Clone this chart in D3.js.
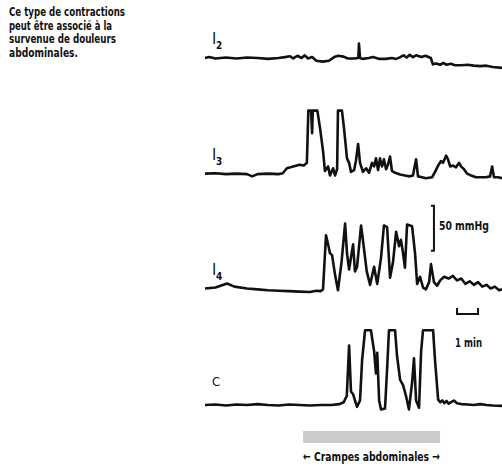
<!DOCTYPE html>
<html>
<head>
<meta charset="utf-8">
<script src="https://cdn.jsdelivr.net/npm/d3@7"></script>
<style>
  body { margin: 0; background: #fff; }
  svg { display: block; }
  text { font-family: "Liberation Sans Narrow", "DejaVu Sans Condensed", "Roboto", sans-serif; fill: #111; }
</style>
</head>
<body>
<svg id="chart" width="502" height="472"></svg>
<script>
// channels, top to bottom
var channels = ['I2', 'I3', 'I4', 'C'];
var channelSub = { I2: '2', I3: '3', I4: '4', C: '' };

// [time (min), pressure relative to baseline (mmHg)]
var i2 = [[0,0],[0.2,1],[0.5,-0.5],[1,0.5],[1.5,-0.5],[2,0.5],[2.5,0],[3,-1],[3.5,0],[3.8,1],[4.05,2],[4.2,-0.5],[4.4,2.5],[4.6,0],[4.75,3],[4.9,-0.5],[5.1,1],[5.3,-3],[5.6,-4],[5.9,-3],[6.15,1],[6.35,2.5],[6.6,1.5],[6.8,-0.5],[7.1,-0.5],[7.3,0],[7.33,16],[7.38,0],[7.5,-1],[7.8,0],[8,1],[8.3,-1],[8.6,-1],[8.9,0],[9.1,-1],[9.3,1],[9.45,3],[9.6,0.5],[9.75,3.5],[9.9,1],[10.05,3],[10.3,1],[10.5,2.5],[10.75,0],[10.85,-7],[11,-6],[11.2,-7.5],[11.35,-5.5],[11.5,-7.5],[11.7,-6.5],[11.9,-8],[12.2,-8],[12.5,-7.5],[12.8,-8.5],[13.1,-9],[13.4,-8.5],[13.7,-10],[14.14,-11]];

var i3 = [[0,0],[0.5,0.5],[1,-0.5],[1.5,0],[2,-0.5],[2.25,-3],[2.5,-0.5],[3,0],[3.5,-0.5],[3.7,0.5],[3.9,6],[4.2,8],[4.5,10],[4.7,9],[4.85,12],[4.92,70],[5.05,70],[5.1,45],[5.13,70],[5.35,70],[5.48,50],[5.62,25],[5.71,3],[5.86,8],[5.95,-2],[6.1,6],[6.19,-2],[6.29,5],[6.33,70],[6.52,70],[6.62,50],[6.76,17],[6.86,12],[6.95,2],[7.1,4],[7.19,15],[7.29,33],[7.38,12],[7.52,2],[7.67,6],[7.81,1],[7.95,12],[8.05,8],[8.14,17],[8.24,4],[8.33,17],[8.43,8],[8.52,16],[8.62,5],[8.71,10],[8.81,19],[8.9,3],[9.05,1],[9.29,-1],[9.52,-2],[9.76,-3],[9.9,-2],[10.05,16],[10.14,-3],[10.33,-4],[10.52,-5],[10.81,-4],[10.95,2],[11.1,9],[11.24,14],[11.33,12],[11.48,20],[11.57,16],[11.67,8],[11.81,9],[11.95,7],[12.1,12],[12.19,8],[12.33,5],[12.48,0],[12.67,-2],[12.9,-4],[13.14,-4],[13.38,-4],[13.57,-3],[13.67,8],[13.76,-4],[13.95,-4],[14.14,-5]];

var i4 = [[0,1],[0.5,2],[1.05,6.5],[1.4,3],[2,1],[2.5,0],[3,-1],[3.5,-1.5],[4,-2],[4.5,-2.5],[5,-3],[5.3,-1.5],[5.5,-2],[5.62,0],[5.76,60],[5.86,50],[5.95,40],[6.05,38],[6.2,15],[6.33,-1],[6.5,30],[6.67,73],[6.76,40],[6.86,22],[7.05,50],[7.14,20],[7.24,25],[7.43,71],[7.57,45],[7.7,20],[7.86,5],[8.05,25],[8.2,6],[8.38,35],[8.52,71],[8.67,69],[8.81,13],[8.95,30],[9.1,64],[9.24,48],[9.33,55],[9.43,40],[9.52,24],[9.62,72],[9.86,70],[10,40],[10.1,6],[10.24,14],[10.38,2],[10.52,0],[10.67,8],[10.76,28],[10.9,8],[11.05,4],[11.2,10],[11.38,14],[11.6,12],[11.8,15],[12,10],[12.2,12],[12.4,6],[12.6,9],[12.8,5],[13,8],[13.2,3],[13.4,5],[13.6,1],[13.8,3],[14,-1],[14.14,0]];

var c = [[0,0],[0.5,0.5],[1,-0.5],[1.5,0.5],[2,0],[2.5,1],[3,0],[3.5,-0.5],[4,0.5],[4.5,0],[5,-0.5],[5.5,0],[6,0],[6.4,1],[6.6,3],[6.75,10],[6.86,66],[6.95,15],[7.05,12],[7.14,5],[7.24,-2],[7.38,5],[7.48,50],[7.62,83],[7.9,83],[8.05,60],[8.14,35],[8.2,58],[8.29,5],[8.38,-5],[8.57,-4],[8.67,40],[8.76,83],[9.05,83],[9.14,55],[9.29,28],[9.43,22],[9.57,10],[9.71,-5],[9.86,25],[9.95,52],[10.05,5],[10.19,-3],[10.29,60],[10.38,83],[10.86,83],[10.95,50],[11.1,6],[11.2,3],[11.3,5],[11.4,2],[11.5,4.5],[11.6,1.5],[11.85,5],[12,2],[12.2,1],[12.5,0.5],[12.8,0],[13.1,1],[13.4,0],[13.7,-0.5],[14.14,-1]];

var traces = { I2: i2, I3: i3, I4: i4, C: c };

var noteLines = ['Ce type de contractions', 'peut être associé à la', 'survenue de douleurs', 'abdominales.'];
var crampSpan = [4.67, 11.19];     // min
var crampLabel = '\u2190 Crampes abdominales \u2192';
var pressureBar = { channel: 'I4', from: 43, to: 93, label: '50 mmHg', t: 10.9 };
var timeBar = { from: 12.0, to: 13.0, label: '1 min' };

var svg = d3.select('#chart');

var x = d3.scaleLinear().domain([0, 14.14]).range([205, 502]);
var ch = d3.scalePoint().domain(channels).range([58, 405]);
var y = d3.scaleLinear().domain([0, 50]).range([0, -45]);

// fit text into a target width (condensed look)
function fit(sel, w, always) {
    sel.each(function () {
        var len = this.getComputedTextLength();
        if (len > w || always) {
            d3.select(this).attr('textLength', w).attr('lengthAdjust', 'spacingAndGlyphs');
        }
    });
}

// note on the left
var noteWidths = [116, 103, 107, 69];
svg.append('g').selectAll('text')
    .data(noteLines)
    .join('text')
    .attr('x', 9)
    .attr('y', (d, i) => 16 + i * 13.7)
    .style('font-size', '12px')
    .style('font-weight', 600)
    .text(d => d)
    .each(function (d, i) {
        fit(d3.select(this), noteWidths[i], true);
    });

// traces
var line = d3.line()
    .x(d => x(d[0]))
    .y(d => d[1]);

var g = svg.append('g');
channels.forEach(function (name) {
    var base = ch(name);
    g.append('path')
        .datum(traces[name].map(d => [d[0], base + y(d[1])]))
        .attr('d', line)
        .attr('fill', 'none')
        .attr('stroke', '#111')
        .attr('stroke-width', 2.6)
        .attr('stroke-linejoin', 'round');

    g.append('text')
        .attr('x', 212)
        .attr('y', base - (name == 'C' ? 19 : 14))
        .style('font-size', name == 'C' ? '13px' : '16px')
        .text(name == 'C' ? 'C' : 'I');
    if (channelSub[name]) {
        g.append('text')
            .attr('x', 216)
            .attr('y', base - 9)
            .style('font-size', '10px')
            .style('font-weight', 600)
            .text(channelSub[name]);
    }
});

// 50 mmHg bar
var pb = ch(pressureBar.channel);
var px = x(pressureBar.t);
svg.append('path')
    .attr('d', 'M' + (px - 3) + ',' + (pb + y(pressureBar.to)) + 'H' + px + 'V' + (pb + y(pressureBar.from)) + 'H' + (px - 3))
    .attr('fill', 'none')
    .attr('stroke', '#111')
    .attr('stroke-width', 2);
svg.append('text')
    .attr('x', px + 5)
    .attr('y', pb + y(pressureBar.to) + 24)
    .style('font-size', '12px')
    .style('font-weight', 600)
    .text(pressureBar.label)
    .call(fit, 50);

// 1 min bar
var tb0 = x(timeBar.from), tb1 = x(timeBar.to);
svg.append('path')
    .attr('d', 'M' + tb0 + ',308V314H' + tb1 + 'V308')
    .attr('fill', 'none')
    .attr('stroke', '#111')
    .attr('stroke-width', 2);
svg.append('text')
    .attr('x', tb0 - 2)
    .attr('y', 347)
    .style('font-size', '12px')
    .style('font-weight', 600)
    .text(timeBar.label)
    .call(fit, 27);

// cramps band
svg.append('rect')
    .attr('x', x(crampSpan[0]))
    .attr('y', 431)
    .attr('width', x(crampSpan[1]) - x(crampSpan[0]))
    .attr('height', 12)
    .attr('fill', '#cbcbcb');
svg.append('text')
    .attr('x', x(crampSpan[0]))
    .attr('y', 461)
    .style('font-size', '13px')
    .style('font-weight', 600)
    .text(crampLabel)
    .call(fit, x(crampSpan[1]) - x(crampSpan[0]));
</script>
</body>
</html>
